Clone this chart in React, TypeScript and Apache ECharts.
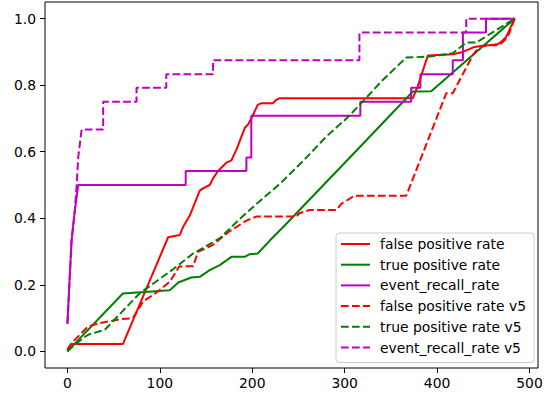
import React, { useEffect, useRef } from "react";
import * as echarts from "echarts";

const xTicks = [0, 100, 200, 300, 400, 500];
const yTicks = [0, 0.2, 0.4, 0.6, 0.8, 1.0];

const names = [
  "false positive rate",
  "true positive rate",
  "event_recall_rate",
  "false positive rate v5",
  "true positive rate v5",
  "event_recall_rate v5",
];

const fpr: number[][] = [
  [0, 0.005], [2, 0.015], [4, 0.022], [60, 0.022], [109, 0.343], [121.6, 0.35],
  [125, 0.373], [132.4, 0.408], [143.2, 0.483], [146.8, 0.49], [154, 0.5],
  [157.6, 0.52], [163, 0.542], [172, 0.567], [177.5, 0.574], [183, 0.607],
  [192, 0.672], [195.5, 0.682], [199, 0.7], [206, 0.741], [210, 0.746],
  [222.5, 0.746], [226, 0.756], [229.7, 0.761], [373.8, 0.761], [379, 0.796],
  [390, 0.889], [417, 0.893], [428, 0.9], [440.5, 0.915], [453, 0.92],
  [464, 0.92], [469.4, 0.93], [474.8, 0.945], [484, 1.0],
];

const tpr: number[][] = [
  [0, 0], [60, 0.174], [110.8, 0.184], [120, 0.207], [134, 0.222], [143.2, 0.224],
  [154, 0.244], [164.9, 0.259], [177.5, 0.284], [191.9, 0.284], [197.3, 0.292],
  [206, 0.294], [219, 0.333], [233.3, 0.373], [305.4, 0.582], [373.8, 0.781],
  [393.7, 0.782], [484, 1.0],
];

const erate: number[][] = [
  [0, 0.083], [2.7, 0.234], [4.5, 0.333], [8, 0.423], [11.7, 0.5], [128, 0.5],
  [128, 0.542], [193.7, 0.542], [193.7, 0.583], [199, 0.583], [199, 0.708],
  [317, 0.708], [317, 0.75], [372, 0.75], [372, 0.792], [382, 0.792],
  [382, 0.833], [417, 0.833], [417, 0.875], [428, 0.875], [428, 0.958],
  [453, 0.958], [453, 1.0], [484, 1.0],
];

const fprV5: number[][] = [
  [0, 0.005], [6.3, 0.03], [22.5, 0.075], [35, 0.085], [58.6, 0.097], [71, 0.1],
  [82, 0.15], [98, 0.18], [111, 0.21], [121, 0.255], [136, 0.256],
  [141.4, 0.299], [157.6, 0.32], [174, 0.358], [193.7, 0.393], [204.5, 0.405],
  [247.8, 0.405], [251, 0.415], [262, 0.425], [291, 0.425], [296.4, 0.443],
  [310.8, 0.468], [366.7, 0.468], [410, 0.776], [417, 0.776], [438.7, 0.89],
  [446, 0.916], [456.8, 0.92], [469.4, 0.925], [476.5, 0.945], [484, 1.0],
];

const tprV5: number[][] = [
  [0, 0], [6, 0.015], [17, 0.04], [22.5, 0.05], [40.5, 0.065], [78, 0.174],
  [113, 0.244], [136, 0.294], [165, 0.34], [186.5, 0.398], [204.5, 0.443],
  [229.7, 0.503], [255, 0.572], [280, 0.645], [302, 0.7], [316, 0.74],
  [341, 0.815], [366.7, 0.883], [392, 0.886], [417, 0.896], [428, 0.92],
  [431.6, 0.928], [442.4, 0.928], [484, 1.0],
];

const erateV5: number[][] = [
  [0, 0.083], [2.7, 0.234], [4.5, 0.333], [8, 0.423], [10, 0.5], [11.7, 0.583],
  [15.4, 0.667], [38.7, 0.667], [38.7, 0.75], [74.8, 0.75], [74.8, 0.792],
  [107, 0.792], [107, 0.833], [157.6, 0.833], [157.6, 0.875], [316, 0.875],
  [316, 0.958], [431.6, 0.958], [431.6, 1.0], [484, 1.0],
];

const allData = [fpr, tpr, erate, fprV5, tprV5, erateV5];
const colors = ["#ff0000", "#008000", "#bf00bf", "#ff0000", "#008000", "#bf00bf"];
const dashed = [false, false, false, true, true, true];

const FONT = "DejaVu Sans";

export default function App() {
  const ref = useRef<HTMLDivElement>(null);
  useEffect(() => {
    if (!ref.current) return;
    const chart = echarts.init(ref.current, undefined, { renderer: "svg" });
    chart.setOption({
      animation: false,
      backgroundColor: "#ffffff",
      textStyle: { fontFamily: FONT },
      grid: {
        left: 45,
        top: 2,
        right: 10,
        bottom: 26,
        show: true,
        borderColor: "#000",
        borderWidth: 1,
        backgroundColor: "transparent",
      },
      xAxis: {
        type: "value",
        min: -24.25,
        max: 509.25,
        splitLine: { show: false },
        axisLine: { show: false, onZero: false },
        axisTick: {
          show: true,
          customValues: xTicks,
          length: 5,
          inside: false,
          lineStyle: { color: "#000", width: 1 },
        },
        axisLabel: {
          customValues: xTicks,
          fontSize: 13.9,
          color: "#000",
          fontFamily: FONT,
          margin: 8,
        },
      },
      yAxis: {
        type: "value",
        min: -0.05,
        max: 1.05,
        splitLine: { show: false },
        axisLine: { show: false, onZero: false },
        axisTick: {
          show: true,
          customValues: yTicks,
          length: 5,
          inside: false,
          lineStyle: { color: "#000", width: 1 },
        },
        axisLabel: {
          customValues: yTicks,
          fontSize: 13.9,
          color: "#000",
          fontFamily: FONT,
          margin: 9,
          formatter: (v: number) => v.toFixed(1),
        },
      },
      legend: {
        show: true,
        orient: "vertical",
        left: 336,
        top: 233,
        data: names,
        itemWidth: 29,
        itemHeight: 14,
        itemGap: 6.7,
        padding: [4, 8, 8, 4],
        backgroundColor: "rgba(255,255,255,0.8)",
        borderColor: "#cccccc",
        borderWidth: 1,
        borderRadius: 3,
        itemStyle: { opacity: 0 },
        textStyle: {
          fontSize: 13.9,
          color: "#000",
          fontFamily: FONT,
          lineHeight: 14,
          padding: [0, 0, 0, 5],
        },
      },
      series: allData.map((d, i) => ({
        name: names[i],
        type: "line",
        data: d,
        symbol: "none",
        showSymbol: false,
        color: colors[i],
        lineStyle: {
          color: colors[i],
          width: 2,
          type: dashed[i] ? [7.7, 3.3] : "solid",
        },
        emphasis: { disabled: true },
      })),
    });
    return () => chart.dispose();
  }, []);
  return (
    <div
      ref={ref}
      style={{ position: "absolute", left: 0, top: 0, width: 548, height: 394 }}
    />
  );
}
